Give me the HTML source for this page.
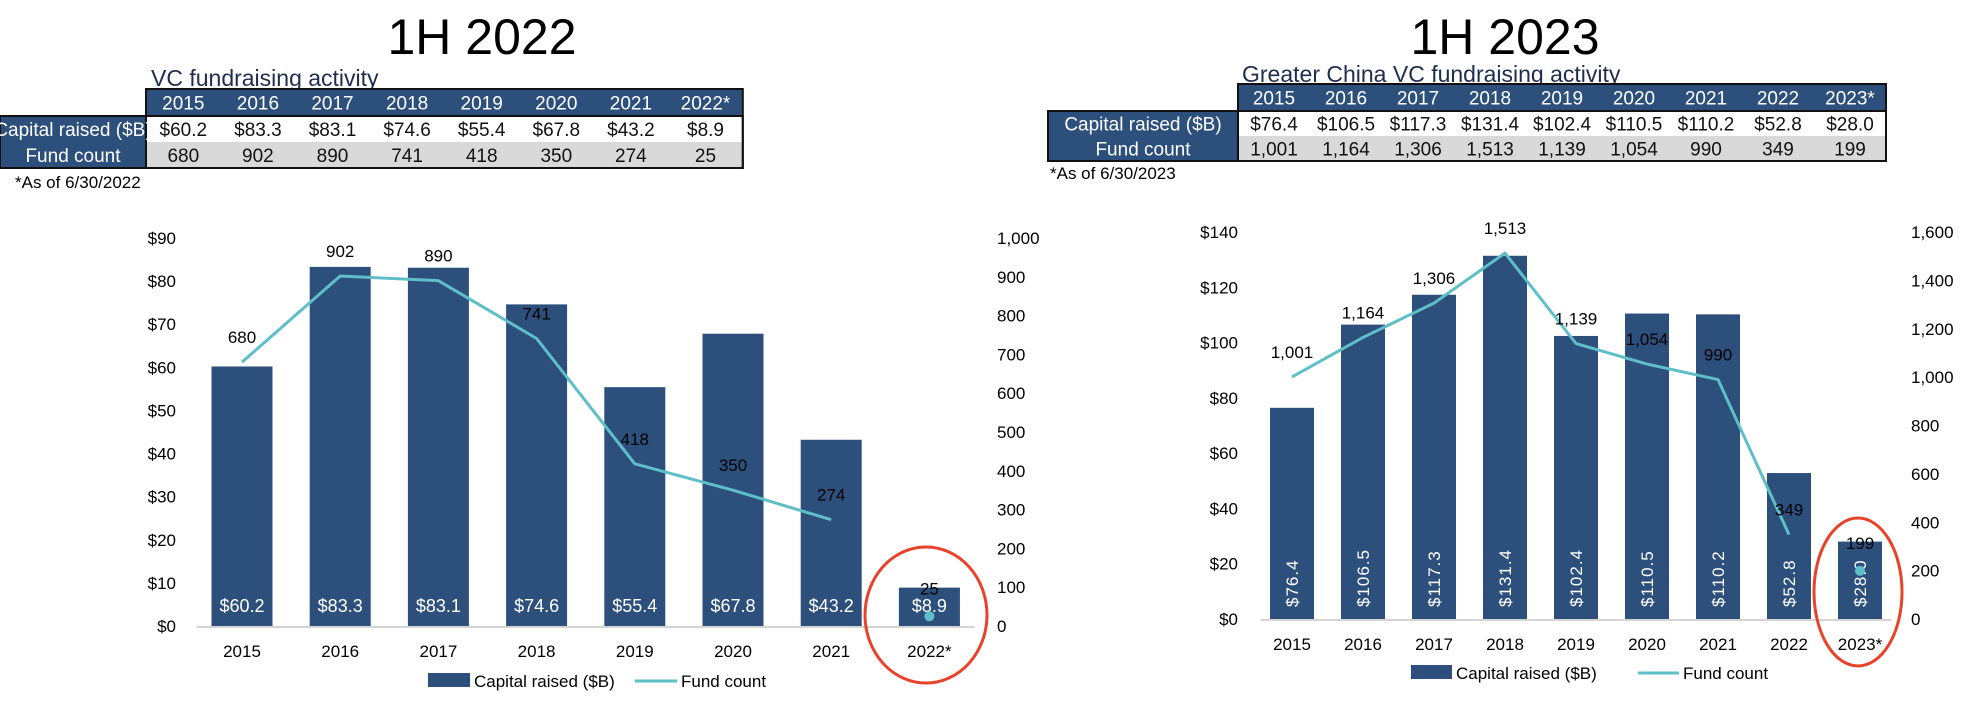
<!DOCTYPE html>
<html><head><meta charset="utf-8">
<style>
body{margin:0;background:#fff;width:1980px;height:704px;overflow:hidden;font-family:"Liberation Sans Narrow","Liberation Sans",sans-serif;}
svg{display:block}
.t{font-family:"Liberation Sans Narrow","Liberation Sans",sans-serif;}
</style></head>
<body>
<svg id="root" width="1980" height="704" viewBox="0 0 1980 704">
  <text class="t" x="482" y="54" font-size="50" text-anchor="middle" fill="#000">1H 2022</text>
  <text class="t" x="1505" y="54" font-size="50" text-anchor="middle" fill="#000">1H 2023</text>
  <text class="t" x="151" y="86" font-size="23" fill="#1f2d4d">VC fundraising activity</text>
  <text class="t" x="1242" y="82" font-size="23" fill="#1f2d4d">Greater China VC fundraising activity</text>
  <text class="t" x="15" y="188" font-size="17" fill="#000">*As of 6/30/2022</text>
  <text class="t" x="1050" y="179" font-size="17" fill="#000">*As of 6/30/2023</text>
  <g id="tables"></g>
  <g id="chartL"></g>
  <g id="chartR"></g>
</svg>
<script>
const yearsL = ["2015","2016","2017","2018","2019","2020","2021","2022*"];
const capitalL = [60.2,83.3,83.1,74.6,55.4,67.8,43.2,8.9];
const fundsL = [680,902,890,741,418,350,274,25];
const capTicksL = [0,10,20,30,40,50,60,70,80,90];
const fundTicksL = [0,100,200,300,400,500,600,700,800,900,1000];

const yearsR = ["2015","2016","2017","2018","2019","2020","2021","2022","2023*"];
const capitalR = [76.4,106.5,117.3,131.4,102.4,110.5,110.2,52.8,28.0];
const fundsR = [1001,1164,1306,1513,1139,1054,990,349,199];
const capTicksR = [0,20,40,60,80,100,120,140];
const fundTicksR = [0,200,400,600,800,1000,1200,1400,1600];

const NS = "http://www.w3.org/2000/svg";
const NAVY = "#2c4f7c", TEAL = "#5fbfc8", RED = "#e8432a";
function mk(parent, tag, attrs, text){
  const e = document.createElementNS(NS, tag);
  for (const k in attrs) e.setAttribute(k, attrs[k]);
  if (text !== undefined) e.textContent = text;
  parent.appendChild(e);
  return e;
}
const fmtC = v => "$" + v.toFixed(1);
const fmtN = v => v.toLocaleString("en-US");

function table(g, cfg){
  const {x0, colW, rowTop, rowH, labelX, years, caps, funds, pre} = cfg;
  const n = years.length;
  const right = x0 + n*colW;
  let r = mk(g,"rect",{x:x0,y:rowTop[0],width:n*colW,height:rowH[0],fill:NAVY});
  
  
  r = mk(g,"rect",{x:labelX,y:rowTop[1],width:x0-labelX,height:rowH[1]+rowH[2],fill:NAVY});
  
  
  mk(g,"rect",{x:x0,y:rowTop[1],width:n*colW,height:rowH[1],fill:"#fff"});
  mk(g,"rect",{x:x0,y:rowTop[2],width:n*colW,height:rowH[2],fill:"#d9d9d9"});
  mk(g,"rect",{x:x0,y:rowTop[0],width:n*colW,height:rowTop[2]+rowH[2]-rowTop[0],fill:"none",stroke:"#111","stroke-width":2});
  mk(g,"rect",{x:labelX,y:rowTop[1],width:right-labelX,height:rowH[1]+rowH[2],fill:"none",stroke:"#111","stroke-width":2});
  const fs = 19;
  let t = mk(g,"text",{x:(labelX+x0)/2,y:rowTop[1]+rowH[1]/2+7,"font-size":fs,fill:"#fff","text-anchor":"middle",class:"t"},"Capital raised ($B)");
  
  
  t = mk(g,"text",{x:(labelX+x0)/2,y:rowTop[2]+rowH[2]/2+7,"font-size":fs,fill:"#fff","text-anchor":"middle",class:"t"},"Fund count");
  
  
  for (let i=0;i<n;i++){
    const cx = x0 + colW*(i+0.5);
    t = mk(g,"text",{x:cx,y:rowTop[0]+rowH[0]/2+7,"font-size":fs,fill:"#fff","text-anchor":"middle",class:"t"},years[i]);
    
    
    t = mk(g,"text",{x:cx,y:rowTop[1]+rowH[1]/2+7,"font-size":fs,fill:"#111","text-anchor":"middle",class:"t"},fmtC(caps[i]));
    
    
    t = mk(g,"text",{x:cx,y:rowTop[2]+rowH[2]/2+7,"font-size":fs,fill:"#111","text-anchor":"middle",class:"t"},fmtN(funds[i]));
    
    
  }
}
const tg = document.getElementById("tables");
table(tg,{x0:146,colW:74.6,rowTop:[89,116,142],rowH:[27,26,26],labelX:0,years:yearsL,caps:capitalL,funds:fundsL,pre:"left"});
table(tg,{x0:1238,colW:72,rowTop:[84,111,136],rowH:[27,25,25],labelX:1048,years:yearsR,caps:capitalR,funds:fundsR,pre:"right"});

function chart(g, cfg){
  const {years, caps, funds, capTicks, fundTicks, capMax, fundMax, yTop, yBase, c0, step, barW, leftAxisX, rightAxisX, rotate, pre, ell, leg} = cfg;
  const yC = v => yBase - v/capMax*(yBase-yTop);
  const yF = v => yBase - v/fundMax*(yBase-yTop);
  const xC = i => c0 + i*step;
  const n = years.length;
  capTicks.forEach(v=>{
    const t = mk(g,"text",{x:leftAxisX,y:yC(v)+6,"font-size":17,"text-anchor":"end",fill:"#000",class:"t"},"$"+v);
    
    
  });
  fundTicks.forEach(v=>{
    const t = mk(g,"text",{x:rightAxisX,y:yF(v)+6,"font-size":17,"text-anchor":"start",fill:"#000",class:"t"},fmtN(v));
    
    
  });
  const ax = mk(g,"line",{x1:xC(0)-step/2+4,x2:xC(n-1)+step/2-4,y1:yBase+1,y2:yBase+1,stroke:"#d4d4d4","stroke-width":2});
  
  
  for (let i=0;i<n;i++){
    const b = mk(g,"rect",{x:xC(i)-barW/2,y:yC(caps[i]),width:barW,height:yBase-yC(caps[i]),fill:NAVY});
    
    
    const xl = mk(g,"text",{x:xC(i),y:yBase+31,"font-size":17,"text-anchor":"middle",fill:"#000",class:"t"},years[i]);
    
    
    let bl;
    if (rotate){
      bl = mk(g,"text",{x:0,y:0,"font-size":17,"text-anchor":"start",fill:"#fff",class:"t","letter-spacing":"1",transform:`translate(${xC(i)+6},${yBase-12}) rotate(-90)`},fmtC(caps[i]));
    } else {
      bl = mk(g,"text",{x:xC(i),y:yBase-14,"font-size":18,"text-anchor":"middle",fill:"#fff",class:"t"},fmtC(caps[i]));
    }
    
    
  }
  let pts = [];
  for (let i=0;i<n-1;i++) pts.push(xC(i)+","+yF(funds[i]));
  const ln = mk(g,"polyline",{points:pts.join(" "),fill:"none",stroke:TEAL,"stroke-width":3,"stroke-linejoin":"round"});
  
  
  const dot = mk(g,"circle",{cx:xC(n-1),cy:yF(funds[n-1]),r:5,fill:TEAL});
  
  
  for (let i=0;i<n;i++){
    const off = (i===n-1) ? 22 : 19;
    const fl = mk(g,"text",{x:xC(i),y:yF(funds[i])-off,"font-size":17,"text-anchor":"middle",fill:"#000",class:"t"},fmtN(funds[i]));
    
    
  }
  const e = mk(g,"ellipse",{cx:ell[0],cy:ell[1],rx:ell[2],ry:ell[3],fill:"none",stroke:RED,"stroke-width":3});
  
  
  const lb = mk(g,"rect",{x:leg[0],y:leg[4]-8,width:leg[1]-leg[0],height:14,fill:NAVY});
  
  
  const lt = mk(g,"text",{x:leg[1]+4,y:leg[4]+6,"font-size":17,fill:"#000",class:"t"},"Capital raised ($B)");
  
  
  const ll = mk(g,"line",{x1:leg[2],x2:leg[3],y1:leg[4],y2:leg[4],stroke:TEAL,"stroke-width":3});
  
  
  const lt2 = mk(g,"text",{x:leg[3]+4,y:leg[4]+6,"font-size":17,fill:"#000",class:"t"},"Fund count");
  
  
}
chart(document.getElementById("chartL"),{years:yearsL,caps:capitalL,funds:fundsL,capTicks:capTicksL,fundTicks:fundTicksL,
  capMax:90,fundMax:1000,yTop:238,yBase:626,c0:242,step:98.2,barW:61,leftAxisX:176,rightAxisX:997,rotate:false,pre:"left",
  ell:[926,615,61,68],leg:[428,470,635,677,681]});
chart(document.getElementById("chartR"),{years:yearsR,caps:capitalR,funds:fundsR,capTicks:capTicksR,fundTicks:fundTicksR,
  capMax:140,fundMax:1600,yTop:232,yBase:619,c0:1292,step:71,barW:44,leftAxisX:1238,rightAxisX:1911,rotate:true,pre:"right",
  ell:[1858,592,44,74],leg:[1411,1452,1638,1679,673]});
</script>
</body></html>
